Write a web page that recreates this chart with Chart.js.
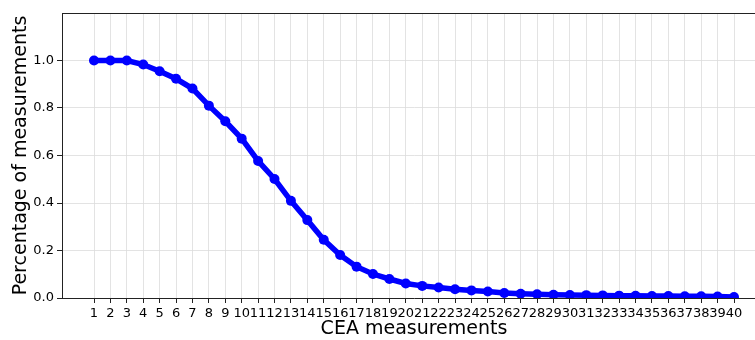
<!DOCTYPE html>
<html>
<head>
<meta charset="utf-8">
<script src="https://cdn.jsdelivr.net/npm/chart.js@4/dist/chart.umd.min.js"></script>
<style>
  html, body { margin: 0; padding: 0; background: #fff; overflow: hidden; }
  #wrap { width: 755px; height: 340px; overflow: hidden; }
</style>
</head>
<body>
<div id="wrap"><canvas id="c" width="766" height="340"></canvas></div>
<script>
const measurements = [1,2,3,4,5,6,7,8,9,10,11,12,13,14,15,16,17,18,19,20,21,22,23,24,25,26,27,28,29,30,31,32,33,34,35,36,37,38,39,40];
const percentages = [1.000,1.000,1.000,0.983,0.955,0.923,0.882,0.810,0.744,0.671,0.577,0.501,0.409,0.328,0.245,0.181,0.132,0.101,0.080,0.061,0.051,0.044,0.037,0.032,0.027,0.021,0.018,0.016,0.014,0.013,0.012,0.011,0.010,0.009,0.008,0.008,0.007,0.007,0.006,0.004];
const xTickLabels = measurements.map(String);
const yTicks = [0.0,0.2,0.4,0.6,0.8,1.0];
const yTickLabels = ['0.0','0.2','0.4','0.6','0.8','1.0'];

const points = measurements.map((m, i) => ({x: m, y: percentages[i]}));

const frame = {
  id: 'frame',
  afterDraw(chart) {
    const {ctx, chartArea} = chart;
    ctx.save();
    ctx.strokeStyle = '#222';
    ctx.lineWidth = 1;
    ctx.beginPath();
    ctx.moveTo(chartArea.left, chartArea.top + 0.5);
    ctx.lineTo(chartArea.right, chartArea.top + 0.5);
    ctx.stroke();
    ctx.restore();
  }
};

const FONT = "'DejaVu Sans', sans-serif";

new Chart(document.getElementById('c'), {
  type: 'line',
  data: {
    datasets: [{
      data: points,
      borderColor: '#0000ff',
      backgroundColor: '#0000ff',
      borderWidth: 5.5,
      pointRadius: 5,
      pointHoverRadius: 5,
      pointBorderWidth: 0,
      tension: 0,
      fill: false
    }]
  },
  plugins: [frame],
  options: {
    responsive: false,
    animation: false,
    events: [],
    layout: { autoPadding: false, padding: { top: 13, right: 0, left: 0, bottom: 0 } },
    plugins: { legend: { display: false }, tooltip: { enabled: false } },
    scales: {
      x: {
        type: 'linear',
        min: -0.95,
        max: 41.95,
        afterBuildTicks(scale) { scale.ticks = measurements.map(v => ({value: v})); },
        afterFit(scale) { scale.height = 42; },
        ticks: {
          autoSkip: false,
          maxRotation: 0,
          minRotation: 0,
          padding: 3,
          color: '#000',
          font: { family: FONT, size: 13 },
          callback: (v) => xTickLabels[measurements.indexOf(v)]
        },
        grid: {
          color: '#dcdcdc',
          borderDash: [2, 2],
          lineWidth: 0.8,
          tickLength: 5,
          tickColor: '#222',
          tickBorderDash: [],
          tickWidth: 1
        },
        border: { display: true, color: '#222', width: 1 },
        title: {
          display: true,
          text: 'CEA measurements',
          color: '#000',
          font: { family: FONT, size: 19 },
          padding: { top: 0, bottom: 0 }
        }
      },
      y: {
        type: 'linear',
        min: 0,
        max: 1.2,
        afterBuildTicks(scale) { scale.ticks = yTicks.map(v => ({value: v})); },
        afterFit(scale) { scale.width = 62; },
        ticks: {
          padding: 3,
          color: '#000',
          font: { family: FONT, size: 13 },
          callback: (v) => yTickLabels[yTicks.findIndex(t => Math.abs(t - v) < 1e-9)]
        },
        grid: {
          color: '#dcdcdc',
          borderDash: [2, 2],
          lineWidth: 0.8,
          tickLength: 5,
          tickColor: '#222',
          tickBorderDash: [],
          tickWidth: 1
        },
        border: { display: true, color: '#222', width: 1 },
        title: {
          display: true,
          text: 'Percentage of measurements',
          color: '#000',
          font: { family: FONT, size: 19 },
          padding: { top: 10, bottom: 0 }
        }
      }
    }
  }
});
</script>
</body>
</html>
